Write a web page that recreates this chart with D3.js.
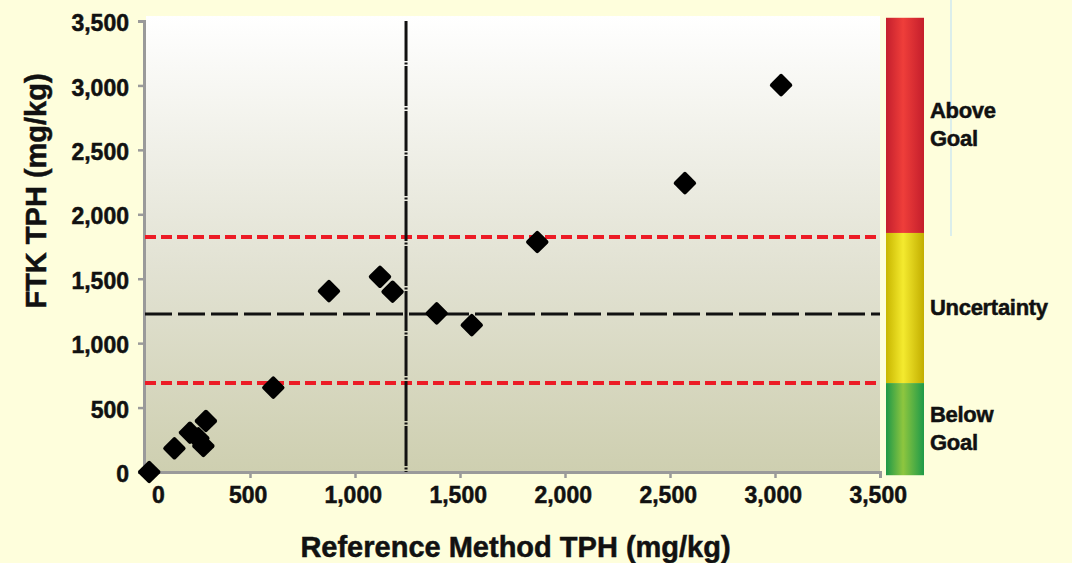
<!DOCTYPE html>
<html>
<head>
<meta charset="utf-8">
<script src="https://cdn.jsdelivr.net/npm/d3@7"></script>
<style>
  html, body { margin: 0; padding: 0; background: #fefedc; }
  svg { display: block; }
  text { font-family: "Liberation Sans", Arial, sans-serif; font-weight: bold; fill: #111; stroke: #111; stroke-width: 0.5px; }
</style>
</head>
<body>
<div id="chart"></div>
<script>
// reference method vs field test kit results (mg/kg)
const refTPH = [20, 140, 214, 254, 278, 290, 611, 876, 1119, 1179, 1389, 1556, 1868, 2571, 3029]
const ftkTPH = [0, 184, 305, 262, 202, 396, 655, 1404, 1515, 1399, 1231, 1140, 1785, 2242, 3002]

const xTicks = [0, 500, 1000, 1500, 2000, 2500, 3000, 3500]
const yTicks = [0, 500, 1000, 1500, 2000, 2500, 3000, 3500]

// decision thresholds
const upperGoal = 1824
const lowerGoal = 690
const actionLevel = 1226
const refLevel = 1243

// colour bar bands: [top, bottom] in y units
const bandNames = [["Above", "Goal"], ["Uncertainty"], ["Below", "Goal"]]
const bandEdges = [[3525, 1855], [1855, 690], [690, -25]]
const bandColors = [
  ["#c41f2d", "#ef3e3a", "#c41e2c"],
  ["#c8b600", "#f4ea2f", "#c2ae00"],
  ["#1e9848", "#8ec63f", "#1e9a48"]
]

const width = 1072
const height = 563

const svg = d3.select("#chart")
  .append("svg")
  .attr("width", width)
  .attr("height", height)

const x = d3.scaleLinear().domain([0, 3500]).range([145, 880])
const y = d3.scaleLinear().domain([0, 3500]).range([472, 21])

const defs = svg.append("defs")
const bg = defs.append("linearGradient")
  .attr("id", "plotbg").attr("x1", 0).attr("x2", 0).attr("y1", 0).attr("y2", 1)
bg.append("stop").attr("offset", "0%").attr("stop-color", "#ffffff")
bg.append("stop").attr("offset", "55%").attr("stop-color", "#e2e2d3")
bg.append("stop").attr("offset", "100%").attr("stop-color", "#cecfb0")

bandColors.forEach((c, i) => {
  const g = defs.append("linearGradient")
    .attr("id", "band" + i).attr("x1", 0).attr("x2", 1).attr("y1", 0).attr("y2", 0)
  g.append("stop").attr("offset", "0%").attr("stop-color", c[0])
  g.append("stop").attr("offset", "45%").attr("stop-color", c[1])
  g.append("stop").attr("offset", "100%").attr("stop-color", c[2])
})

// faint stray line in the original artwork
svg.append("line")
  .attr("x1", 951).attr("x2", 951).attr("y1", 0).attr("y2", 236)
  .attr("stroke", "#cfe8f0").attr("stroke-width", 1.5)

// plot area
svg.append("rect")
  .attr("x", x(0) + 1)
  .attr("y", y(3500) - 5)
  .attr("width", x(3500) - x(0) - 1)
  .attr("height", y(0) - y(3500) + 5)
  .attr("fill", "url(#plotbg)")

// axes
const xAxis = svg.append("g")
  .attr("transform", `translate(0,${y(0)})`)
  .call(d3.axisBottom(x).tickValues(xTicks).tickFormat(d3.format(",")).tickSize(6).tickPadding(9))
const yAxis = svg.append("g")
  .attr("transform", `translate(${x(0) - 1},0)`)
  .call(d3.axisLeft(y).tickValues(yTicks).tickFormat(d3.format(",")).tickSize(6).tickPadding(9))

;[xAxis, yAxis].forEach(a => {
  a.select(".domain").attr("stroke", "#9a9a9a").attr("stroke-width", 3)
  a.selectAll(".tick line").attr("stroke", "#9a9a9a").attr("stroke-width", 2.5)
  a.selectAll(".tick text")
    .style("font-size", "23px").style("font-weight", "bold").attr("fill", "#111")
    .attr("font-family", "Liberation Sans, Arial, sans-serif")
})
xAxis.selectAll(".tick text").attr("dx", "-0.1em")
xAxis.selectAll(".tick").filter(d => d === 0).select("text").attr("dx", 13)
yAxis.selectAll(".tick text").attr("dy", "0.42em")

// threshold lines
svg.append("line")
  .attr("x1", x(0)).attr("x2", x(3500)).attr("y1", y(upperGoal)).attr("y2", y(upperGoal))
  .attr("stroke", "#ec1c26").attr("stroke-width", 4).attr("stroke-dasharray", "11,5")
svg.append("line")
  .attr("x1", x(0)).attr("x2", x(3500)).attr("y1", y(lowerGoal)).attr("y2", y(lowerGoal))
  .attr("stroke", "#ec1c26").attr("stroke-width", 4).attr("stroke-dasharray", "11,5")
svg.append("line")
  .attr("x1", x(0)).attr("x2", x(3500)).attr("y1", y(actionLevel)).attr("y2", y(actionLevel))
  .attr("stroke", "#111").attr("stroke-width", 3).attr("stroke-dasharray", "27,6")
svg.append("line")
  .attr("x1", x(refLevel)).attr("x2", x(refLevel)).attr("y1", y(3500)).attr("y2", y(0))
  .attr("stroke", "#111").attr("stroke-width", 3).attr("stroke-dasharray", "40,1.5,2,1.5")

// data points
const pts = refTPH.map((d, i) => [d, ftkTPH[i]])
svg.append("g")
  .selectAll("rect")
  .data(pts)
  .join("rect")
  .attr("x", -8.5).attr("y", -8.5)
  .attr("width", 17).attr("height", 17)
  .attr("rx", 2)
  .attr("fill", "#000")
  .attr("transform", d => `translate(${x(d[0])},${y(d[1])}) rotate(45)`)

// colour bar
const bar = svg.append("g")
bar.selectAll("rect")
  .data(bandEdges)
  .join("rect")
  .attr("x", 886)
  .attr("width", 38)
  .attr("y", d => y(d[0]))
  .attr("height", d => y(d[1]) - y(d[0]))
  .attr("fill", (d, i) => `url(#band${i})`)

bandNames.forEach((lines, i) => {
  const mid = (y(bandEdges[i][0]) + y(bandEdges[i][1])) / 2
  const t = svg.append("text")
    .attr("x", 930)
    .attr("y", lines.length === 2 ? mid - 7 : mid + 7)
    .style("font-size", "22px")
    .style("letter-spacing", "-0.3px")
  lines.forEach((l, j) => {
    t.append("tspan").attr("x", 930).attr("dy", j === 0 ? 0 : 28).text(l)
  })
})

// axis titles
svg.append("text")
  .attr("x", (x(0) + x(3500)) / 2 + 3)
  .attr("y", 557)
  .attr("text-anchor", "middle")
  .style("font-size", "29px")
  .text("Reference Method TPH (mg/kg)")

svg.append("text")
  .attr("transform", "translate(46,191) rotate(-90)")
  .attr("text-anchor", "middle")
  .style("font-size", "29px")
  .text("FTK TPH (mg/kg)")
</script>
</body>
</html>
